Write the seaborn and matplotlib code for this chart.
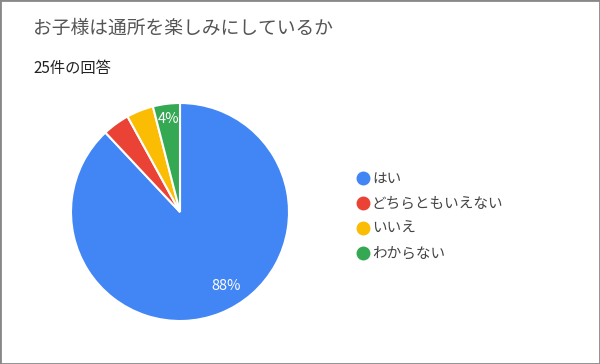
import matplotlib
matplotlib.use("Agg")
import numpy as np
import matplotlib.pyplot as plt
from matplotlib.lines import Line2D
from matplotlib.patches import Rectangle
import seaborn as sns

#-------------------------------------------------------------------------------
# data
title = 'お子様は通所を楽しみにしているか'
subtitle = '25件の回答'
answers = ['はい', 'どちらともいえない', 'いいえ', 'わからない']
counts = [22, 1, 1, 1]
colors = ['#4285F4', '#EA4335', '#FBBC04', '#34A853']
shown_labels = ['88%', '', '', '4%']

#-------------------------------------------------------------------------------
sns.set_theme(style='white')
plt.rcParams['font.family'] = ['Noto Sans CJK JP', 'DejaVu Sans']

fig = plt.figure(figsize=(6, 3.64), dpi=100)

# pie axes: centre ~ (180, 212) px, radius ~109 px
ax = fig.add_axes([71 / 600, (364 - 212 - 109) / 364, 218 / 600, 218 / 364])
wedges, _ = ax.pie(counts, colors=colors, startangle=90, counterclock=False,
                   wedgeprops={'edgecolor': 'white', 'linewidth': 1.5})
ax.set_aspect('equal')
ax.set_xlim(-1.0, 1.0)
ax.set_ylim(-1.0, 1.0)

total = sum(counts)
start = 90.0
for lab, c in zip(shown_labels, counts):
    span = 360.0 * c / total
    mid = np.deg2rad(start - span / 2)
    start -= span
    if not lab:
        continue
    if c == max(counts):
        # big slice: label sits lower right, as in the google forms chart
        mid = np.deg2rad(-58)
        r = 0.8
    else:
        r = 0.86
    ax.text(r * np.cos(mid), r * np.sin(mid), lab, color='white',
            fontsize=10.5, ha='center', va='center')

fig.text(33 / 600, 1 - 28 / 364, title, fontsize=13.5, color='#555555',
         ha='left', va='center')
fig.text(33 / 600, 1 - 68 / 364, subtitle, fontsize=11, color='#222222',
         ha='left', va='center')

handles = [Line2D([0], [0], marker='o', linestyle='', markersize=9,
                  markerfacecolor=c, markeredgecolor=c) for c in colors]
fig.legend(handles, answers, loc='upper left',
           bbox_to_anchor=(350 / 600, 1 - 166 / 364), frameon=False,
           fontsize=10.5, labelcolor='#444444', handletextpad=0.1,
           labelspacing=0.75, handlelength=1.0, borderaxespad=0)

fig.patches.append(Rectangle((0, 0), 1, 1, transform=fig.transFigure,
                             fill=False, edgecolor='#888888', linewidth=2.0))

fig.savefig('out.png', dpi=100)
